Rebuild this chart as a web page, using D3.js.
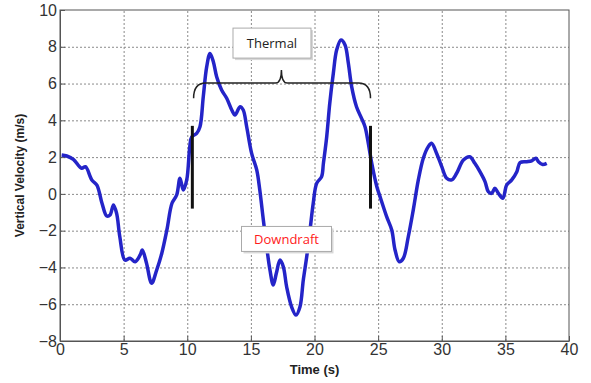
<!DOCTYPE html>
<html>
<head>
<meta charset="utf-8">
<script src="https://cdn.jsdelivr.net/npm/d3@7"></script>
<style>
  body { margin: 0; background: #fff; }
  svg { display: block; }
</style>
</head>
<body>
<div id="chart"></div>
<script>
// Datos
const time = [0.13, 0.53, 1.05, 1.7, 2.0, 2.5, 2.9, 3.3, 3.67, 3.93, 4.2, 4.45, 4.7, 5.1, 5.5, 5.9, 6.3, 6.47, 6.8, 7.2, 7.6, 8.0, 8.4, 8.8, 9.17, 9.43, 9.69, 9.96, 10.2, 10.35, 10.74, 11.0, 11.26, 11.53, 11.79, 12.05, 12.31, 12.7, 13.1, 13.5, 13.75, 14.15, 14.4, 14.67, 15.06, 15.46, 15.7, 15.98, 16.24, 16.5, 16.76, 17.0, 17.29, 17.55, 17.81, 18.2, 18.55, 18.86, 19.12, 19.39, 19.65, 19.9, 20.17, 20.56, 20.7, 20.96, 21.2, 21.48, 21.74, 22.08, 22.4, 22.66, 22.92, 23.3, 23.7, 23.97, 24.23, 24.5, 24.9, 25.15, 25.67, 26.07, 26.33, 26.66, 26.98, 27.37, 27.76, 28.16, 28.55, 28.94, 29.2, 29.6, 30.0, 30.39, 30.78, 31.17, 31.7, 32.2, 32.6, 33.0, 33.4, 33.66, 33.92, 34.18, 34.45, 34.8, 35.1, 35.5, 35.9, 36.15, 36.67, 37.07, 37.4, 37.6, 37.93, 38.25]
const velocity = [2.12, 2.06, 1.88, 1.39, 1.48, 0.76, 0.48, -0.51, -1.2, -1.15, -0.6, -1.06, -2.33, -3.6, -3.5, -3.69, -3.32, -3.05, -3.77, -4.86, -4.14, -3.23, -1.96, -0.51, -0.06, 0.85, 0.21, 0.76, 2.57, 3.1, 3.29, 3.65, 5.29, 6.92, 7.64, 7.19, 6.37, 5.65, 5.2, 4.56, 4.29, 4.74, 4.56, 3.65, 2.2, 1.3, 0.21, -1.42, -2.87, -4.14, -4.95, -4.32, -3.6, -3.96, -5.05, -6.14, -6.59, -6.14, -4.68, -3.41, -1.96, -0.51, 0.57, 0.94, 1.66, 3.11, 4.93, 6.56, 7.82, 8.37, 8.1, 7.1, 5.83, 4.74, 4.11, 3.65, 2.75, 1.66, 0.39, -0.15, -1.24, -1.96, -3.05, -3.69, -3.5, -2.33, -0.88, 0.76, 1.94, 2.57, 2.75, 2.2, 1.48, 0.85, 0.76, 1.12, 1.84, 2.02, 1.66, 1.21, 0.67, 0.12, 0.03, 0.3, 0.03, -0.24, 0.48, 0.76, 1.21, 1.7, 1.75, 1.8, 1.94, 1.75, 1.6, 1.66]

const x_ticks = [0, 5, 10, 15, 20, 25, 30, 35, 40]
const y_ticks = [-8, -6, -4, -2, 0, 2, 4, 6, 8, 10]

// Marcas de inicio y fin de la termica
const markers = [10.4, 24.4]
const marker_range = [-0.8, 3.7]

const width = 591
const height = 383
const margin = { top: 10, right: 22, bottom: 42, left: 60 }

const svg = d3.select('#chart').append('svg')
  .attr('width', width)
  .attr('height', height)

const x = d3.scaleLinear()
  .domain([0, 40])
  .range([margin.left, width - margin.right])

const y = d3.scaleLinear()
  .domain([-8, 10])
  .range([height - margin.bottom, margin.top])

const inner_w = width - margin.left - margin.right
const inner_h = height - margin.top - margin.bottom

// Rejilla punteada
svg.append('g')
  .attr('transform', `translate(0,${height - margin.bottom})`)
  .call(d3.axisBottom(x).tickValues(x_ticks.slice(1, -1)).tickSize(-inner_h).tickFormat(''))
  .call(g => g.select('.domain').remove())
  .call(g => g.selectAll('line').attr('stroke', '#8a8a8a').attr('stroke-dasharray', '2,2'))

svg.append('g')
  .attr('transform', `translate(${margin.left},0)`)
  .call(d3.axisLeft(y).tickValues(y_ticks.slice(1, -1)).tickSize(-inner_w).tickFormat(''))
  .call(g => g.select('.domain').remove())
  .call(g => g.selectAll('line').attr('stroke', '#8a8a8a').attr('stroke-dasharray', '2,2'))

// Caja exterior
svg.append('rect')
  .attr('x', margin.left)
  .attr('y', margin.top)
  .attr('width', inner_w)
  .attr('height', inner_h)
  .attr('fill', 'none')
  .attr('stroke', '#555')
  .attr('stroke-width', 1)

// Ejes con ticks hacia adentro
const xAxis = svg.append('g')
  .attr('transform', `translate(0,${height - margin.bottom})`)
  .call(d3.axisBottom(x).tickValues(x_ticks).tickSize(-5).tickPadding(3).tickSizeOuter(0))

const yAxis = svg.append('g')
  .attr('transform', `translate(${margin.left},0)`)
  .call(d3.axisLeft(y).tickValues(y_ticks).tickSize(-5).tickPadding(3).tickSizeOuter(0))

;[xAxis, yAxis].forEach(g => {
  g.select('.domain').attr('stroke', '#555')
  g.selectAll('line').attr('stroke', '#555')
  g.selectAll('text')
    .attr('font-family', 'Liberation Sans, Arial, sans-serif')
    .attr('font-size', 16)
    .attr('fill', '#333')
})

// Curva de velocidad
const points = time.map((t, i) => [t, velocity[i]])
const line = d3.line()
  .x(d => x(d[0]))
  .y(d => y(d[1]))
  .curve(d3.curveCatmullRom)

svg.append('path')
  .datum(points)
  .attr('d', line)
  .attr('fill', 'none')
  .attr('stroke', '#2424c8')
  .attr('stroke-width', 3.5)
  .attr('stroke-linejoin', 'round')

// Marcas verticales
svg.selectAll('.marker')
  .data(markers)
  .join('line')
  .attr('class', 'marker')
  .attr('x1', d => x(d))
  .attr('x2', d => x(d))
  .attr('y1', y(marker_range[0]))
  .attr('y2', y(marker_range[1]))
  .attr('stroke', '#111')
  .attr('stroke-width', 3)

// Llave de la termica
const bx0 = x(10.5), bx1 = x(24.4), bxc = x(17.4)
const by_end = y(5.2), by_flat = y(6.03), by_cusp = y(6.74)
const r = 12
svg.append('path')
  .attr('d', `M${bx0},${by_end} Q${bx0},${by_flat} ${bx0 + r},${by_flat} L${bxc - r / 2},${by_flat} Q${bxc},${by_flat} ${bxc},${by_cusp} Q${bxc},${by_flat} ${bxc + r / 2},${by_flat} L${bx1 - r},${by_flat} Q${bx1},${by_flat} ${bx1},${by_end}`)
  .attr('fill', 'none')
  .attr('stroke', '#222')
  .attr('stroke-width', 1.5)

// Cajas de texto
const label_box = (cx, cy, w, h, txt, color) => {
  const g = svg.append('g').attr('transform', `translate(${x(cx)},${y(cy)})`)
  g.append('rect')
    .attr('x', -w / 2 + 2).attr('y', -h / 2 + 2)
    .attr('width', w).attr('height', h)
    .attr('fill', '#d8d8d8')
  g.append('rect')
    .attr('x', -w / 2).attr('y', -h / 2)
    .attr('width', w).attr('height', h)
    .attr('fill', '#fff')
    .attr('stroke', '#aaa')
  g.append('text')
    .attr('text-anchor', 'middle')
    .attr('dy', '0.35em')
    .attr('font-family', 'Open Sans, sans-serif')
    .attr('font-size', 13)
    .attr('fill', color)
    .text(txt)
}

label_box(16.66, 8.2, 78, 30, 'Thermal', '#222')
label_box(17.8, -2.45, 90, 25, 'Downdraft', '#ff1a1a')

// Titulos de los ejes
svg.append('text')
  .attr('x', x(20))
  .attr('y', 374)
  .attr('text-anchor', 'middle')
  .attr('font-family', 'Liberation Sans, Arial, sans-serif')
  .attr('font-weight', 'bold')
  .attr('font-size', 13)
  .attr('fill', '#222')
  .text('Time (s)')

svg.append('text')
  .attr('transform', `translate(24,${(margin.top + height - margin.bottom) / 2}) rotate(-90)`)
  .attr('text-anchor', 'middle')
  .attr('font-family', 'Liberation Sans, Arial, sans-serif')
  .attr('font-weight', 'bold')
  .attr('font-size', 12)
  .attr('fill', '#222')
  .text('Vertical Velocity (m/s)')
</script>
</body>
</html>
